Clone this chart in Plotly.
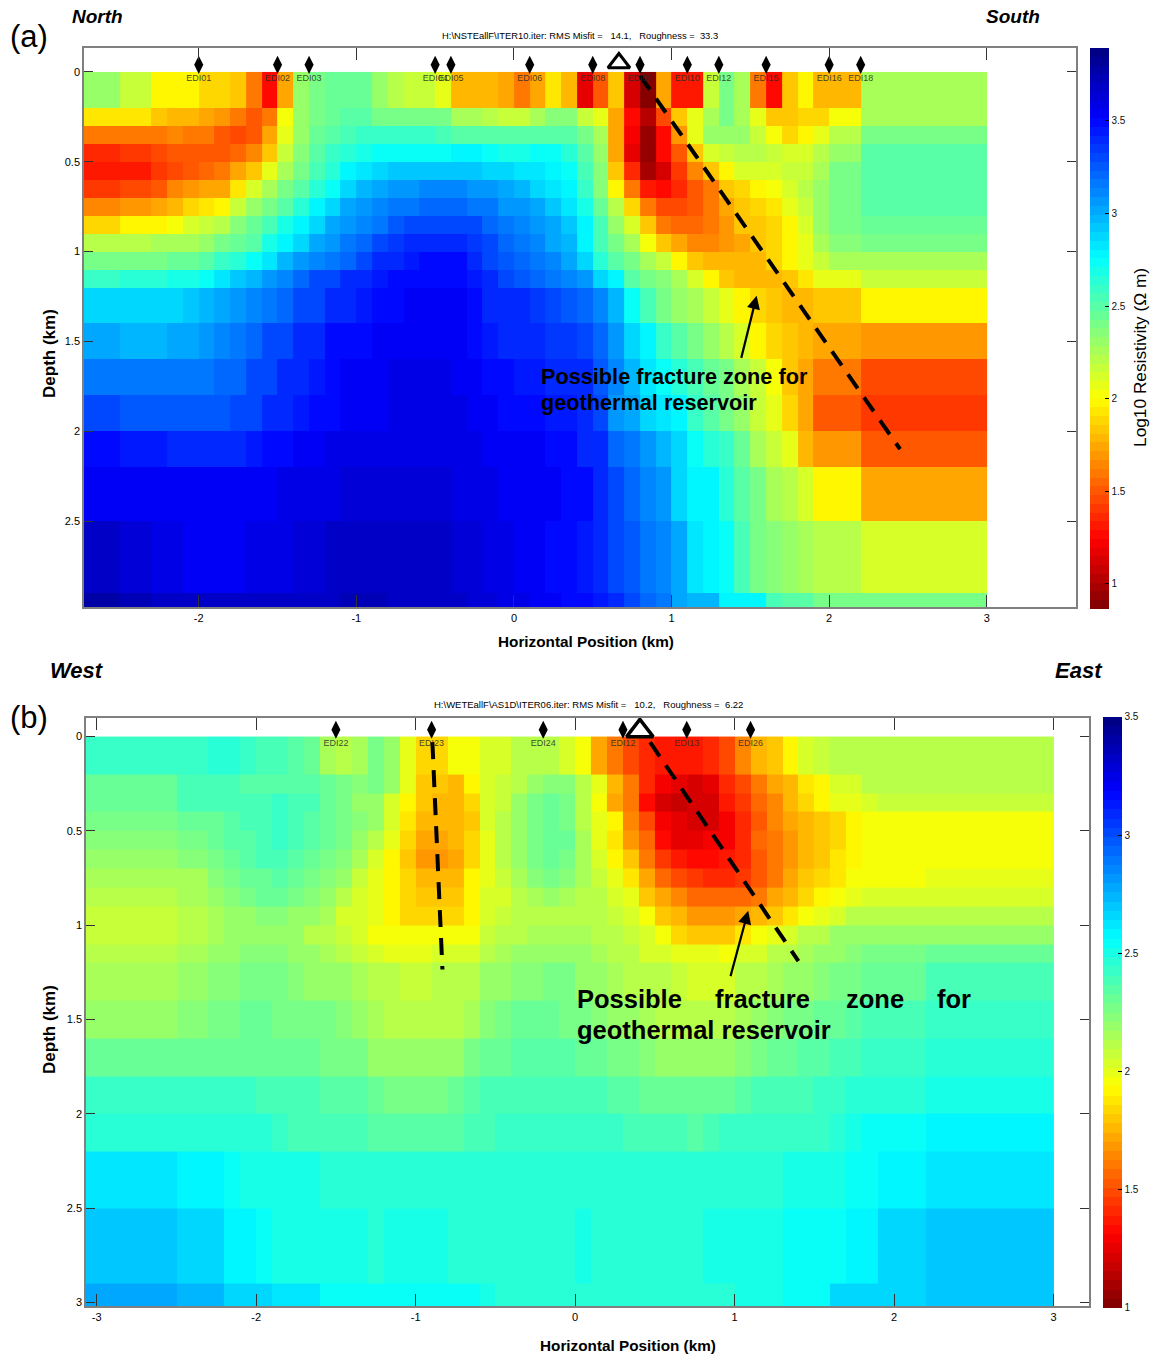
import plotly.graph_objects as go

W, H = 1154, 1358

# ---------- panel (a) data ----------
x_edges_a = [-2.74, -2.5, -2.3, -2.2, -2.1, -2.0, -1.9, -1.8, -1.7, -1.6, -1.5, -1.4, -1.3, -1.2, -1.1, -1.0,
             -0.9, -0.8, -0.7, -0.6, -0.5, -0.4, -0.3, -0.2, -0.1, 0.0, 0.1, 0.2, 0.3, 0.4, 0.5, 0.6, 0.7, 0.8,
             0.9, 1.0, 1.1, 1.2, 1.3, 1.4, 1.5, 1.6, 1.7, 1.8, 1.9, 2.0, 2.2, 3.0]
depth_edges_a = [0, 0.2, 0.3, 0.4, 0.5, 0.6, 0.7, 0.8, 0.9, 1.0, 1.1, 1.2, 1.4, 1.6, 1.8, 2.0, 2.2, 2.5, 2.9, 2.99]
log_res_a = [
 [2.3,2.15,2.0,1.97,1.97,1.88,1.88,1.82,1.62,1.28,1.75,2.3,2.42,2.45,2.45,2.45,2.33,2.2,2.18,2.18,2.05,1.8,1.8,1.8,1.72,1.58,1.75,1.95,1.8,1.15,1.5,1.85,1.12,0.9,1.75,1.3,1.33,2.15,2.38,2.25,1.6,1.28,1.85,1.98,1.8,1.8,2.25],
 [1.92,1.92,1.82,1.78,1.78,1.75,1.68,1.58,1.5,1.58,2.02,2.3,2.42,2.45,2.48,2.48,2.42,2.42,2.42,2.42,2.4,2.25,2.25,2.2,2.18,2.18,2.25,2.35,2.35,2.15,2.08,1.75,1.25,1.02,1.45,1.85,2.08,2.28,2.4,2.28,2.05,1.82,1.82,1.88,1.88,2.03,2.25],
 [1.62,1.6,1.6,1.65,1.6,1.6,1.52,1.45,1.5,1.72,2.05,2.3,2.45,2.5,2.55,2.58,2.58,2.58,2.58,2.58,2.55,2.5,2.5,2.5,2.5,2.48,2.5,2.5,2.48,2.4,2.25,1.72,1.2,0.92,1.25,1.7,2.08,2.3,2.33,2.3,2.15,2.03,1.9,1.98,2.08,2.2,2.38],
 [1.35,1.42,1.48,1.5,1.5,1.5,1.5,1.55,1.65,1.85,2.18,2.35,2.5,2.58,2.65,2.68,2.72,2.72,2.72,2.72,2.72,2.76,2.76,2.72,2.7,2.7,2.72,2.72,2.65,2.5,2.3,1.72,1.18,0.95,1.25,1.5,1.82,2.1,2.18,2.22,2.22,2.15,2.1,2.1,2.2,2.3,2.48],
 [1.3,1.33,1.42,1.45,1.5,1.55,1.6,1.72,1.85,2.05,2.28,2.42,2.55,2.65,2.78,2.82,2.88,2.92,2.92,2.92,2.92,2.92,2.92,2.9,2.88,2.85,2.82,2.78,2.75,2.55,2.35,1.82,1.38,1.0,1.12,1.4,1.65,1.85,2.0,2.12,2.12,2.12,2.15,2.18,2.25,2.38,2.5],
 [1.4,1.45,1.5,1.65,1.68,1.72,1.75,1.95,2.1,2.25,2.38,2.5,2.65,2.75,2.9,2.95,3.0,3.05,3.08,3.1,3.1,3.1,3.08,3.05,3.0,2.98,2.9,2.85,2.78,2.6,2.35,2.0,1.62,1.3,1.25,1.35,1.5,1.62,1.82,1.9,2.0,2.02,2.12,2.2,2.3,2.42,2.5],
 [1.65,1.68,1.72,1.78,1.88,1.92,2.0,2.15,2.3,2.42,2.5,2.62,2.78,2.88,3.0,3.05,3.1,3.15,3.18,3.2,3.2,3.2,3.18,3.15,3.08,3.05,3.0,2.92,2.85,2.68,2.45,2.2,1.88,1.62,1.45,1.48,1.52,1.6,1.75,1.85,1.9,1.95,2.05,2.15,2.3,2.4,2.48],
 [1.88,1.98,2.0,2.02,2.1,2.18,2.22,2.35,2.45,2.55,2.68,2.78,2.9,3.0,3.08,3.12,3.18,3.25,3.28,3.3,3.3,3.3,3.28,3.22,3.15,3.1,3.05,3.0,2.92,2.78,2.55,2.3,2.1,1.85,1.62,1.55,1.55,1.62,1.7,1.82,1.85,1.9,2.0,2.12,2.3,2.4,2.45],
 [2.2,2.22,2.25,2.28,2.28,2.3,2.38,2.45,2.52,2.68,2.78,2.88,3.0,3.08,3.15,3.2,3.28,3.35,3.38,3.38,3.38,3.38,3.35,3.28,3.2,3.15,3.1,3.0,2.95,2.8,2.55,2.42,2.28,2.02,1.82,1.72,1.65,1.65,1.68,1.72,1.85,1.88,1.98,2.08,2.25,2.35,2.4],
 [2.38,2.38,2.42,2.45,2.45,2.52,2.58,2.65,2.75,2.85,2.95,3.05,3.12,3.18,3.22,3.28,3.38,3.42,3.45,3.48,3.48,3.48,3.42,3.32,3.25,3.2,3.15,3.1,3.0,2.88,2.65,2.5,2.38,2.25,2.18,2.0,1.85,1.78,1.78,1.78,1.8,1.88,1.98,2.05,2.18,2.25,2.28],
 [2.6,2.62,2.62,2.68,2.7,2.75,2.85,2.92,2.98,3.05,3.12,3.2,3.28,3.32,3.38,3.42,3.45,3.5,3.5,3.5,3.5,3.5,3.45,3.38,3.32,3.25,3.2,3.15,3.1,3.05,2.9,2.78,2.5,2.42,2.35,2.25,2.1,2.0,1.85,1.8,1.78,1.78,1.85,1.95,2.05,2.05,2.18],
 [2.88,2.88,2.88,2.88,2.92,2.95,3.0,3.05,3.1,3.18,3.22,3.28,3.32,3.38,3.42,3.45,3.5,3.5,3.52,3.52,3.52,3.52,3.48,3.42,3.4,3.38,3.35,3.3,3.25,3.2,3.1,2.95,2.75,2.55,2.42,2.3,2.25,2.15,2.08,2.0,1.9,1.85,1.8,1.8,1.85,1.85,1.98],
 [3.0,2.95,2.95,3.0,3.02,3.05,3.1,3.15,3.2,3.28,3.32,3.38,3.42,3.48,3.5,3.5,3.52,3.52,3.55,3.55,3.55,3.52,3.5,3.45,3.42,3.4,3.38,3.36,3.33,3.3,3.2,3.05,2.88,2.8,2.6,2.5,2.42,2.32,2.22,2.1,2.0,1.9,1.85,1.78,1.72,1.72,1.68],
 [3.18,3.15,3.15,3.15,3.15,3.15,3.2,3.22,3.28,3.32,3.38,3.42,3.45,3.48,3.52,3.52,3.55,3.58,3.58,3.58,3.58,3.55,3.52,3.5,3.48,3.46,3.44,3.42,3.4,3.38,3.25,3.1,2.95,2.85,2.75,2.65,2.55,2.45,2.4,2.25,2.15,2.02,1.85,1.75,1.58,1.58,1.48],
 [3.28,3.25,3.25,3.25,3.25,3.25,3.25,3.28,3.32,3.38,3.42,3.45,3.48,3.5,3.52,3.55,3.55,3.58,3.6,3.6,3.6,3.58,3.55,3.52,3.5,3.5,3.48,3.46,3.44,3.4,3.3,3.08,3.0,2.9,2.85,2.78,2.6,2.5,2.4,2.3,2.15,2.05,1.9,1.75,1.52,1.52,1.42],
 [3.48,3.45,3.45,3.4,3.38,3.38,3.4,3.42,3.45,3.48,3.5,3.52,3.55,3.58,3.6,3.6,3.6,3.6,3.6,3.6,3.6,3.6,3.58,3.55,3.54,3.52,3.52,3.5,3.48,3.42,3.38,3.2,3.18,3.05,2.98,2.88,2.72,2.65,2.58,2.45,2.28,2.15,2.05,1.78,1.68,1.68,1.52],
 [3.55,3.55,3.55,3.52,3.52,3.52,3.52,3.52,3.55,3.55,3.58,3.58,3.6,3.6,3.62,3.62,3.62,3.62,3.64,3.64,3.62,3.6,3.58,3.57,3.56,3.55,3.54,3.52,3.5,3.48,3.42,3.28,3.2,3.1,3.08,2.9,2.78,2.76,2.65,2.5,2.38,2.25,2.2,2.12,2.0,2.0,1.75],
 [3.66,3.62,3.6,3.58,3.56,3.55,3.55,3.56,3.58,3.58,3.6,3.62,3.64,3.66,3.66,3.66,3.66,3.66,3.66,3.66,3.66,3.64,3.62,3.6,3.58,3.55,3.52,3.5,3.48,3.45,3.42,3.3,3.25,3.15,3.12,3.0,2.85,2.8,2.72,2.55,2.38,2.36,2.3,2.28,2.22,2.22,2.12],
 [3.78,3.72,3.7,3.68,3.68,3.68,3.68,3.68,3.68,3.68,3.68,3.68,3.7,3.7,3.72,3.72,3.72,3.68,3.68,3.66,3.66,3.66,3.64,3.62,3.6,3.58,3.55,3.52,3.5,3.48,3.45,3.38,3.3,3.2,3.15,3.0,2.98,2.98,2.78,2.76,2.76,2.55,2.52,2.52,2.42,2.4,2.38],
]
stations_a = ["EDI01", "EDI02", "EDI03", "EDI04", "EDI05", "EDI06", "EDI08", "EDI09", "EDI10", "EDI12", "EDI15", "EDI16", "EDI18"]
station_x_a = [-2.0, -1.5, -1.3, -0.5, -0.4, 0.1, 0.5, 0.8, 1.1, 1.3, 1.6, 2.0, 2.2]
fault_x_a = [0.8, 2.45]
fault_d_a = [0.02, 2.1]

# ---------- panel (b) data ----------
x_edges_b = [-3.08, -2.5, -2.3, -2.2, -2.1, -2.0, -1.9, -1.8, -1.7, -1.6, -1.5, -1.4, -1.3, -1.2, -1.1, -1.0,
             -0.9, -0.8, -0.7, -0.6, -0.5, -0.4, -0.3, -0.2, -0.1, 0.0, 0.1, 0.2, 0.3, 0.4, 0.5, 0.6, 0.7, 0.8,
             0.9, 1.0, 1.1, 1.2, 1.3, 1.4, 1.5, 1.6, 1.7, 1.8, 1.9, 2.2, 3.0]
depth_edges_b = [0, 0.2, 0.3, 0.4, 0.5, 0.6, 0.7, 0.8, 0.9, 1.0, 1.1, 1.2, 1.4, 1.6, 1.8, 2.0, 2.2, 2.5, 2.9, 3.03]
log_res_b = [
 [2.42,2.42,2.46,2.46,2.42,2.4,2.38,2.35,2.3,2.14,2.12,2.14,2.25,2.18,2.0,1.85,1.83,1.95,1.97,2.02,2.05,2.12,2.12,2.12,2.05,1.95,1.72,1.62,1.5,1.4,1.38,1.38,1.38,1.42,1.5,1.65,1.75,1.82,1.92,2.02,2.08,2.12,2.12,2.12,2.12,2.12],
 [2.32,2.38,2.38,2.38,2.36,2.36,2.36,2.34,2.33,2.3,2.25,2.22,2.25,2.2,2.0,1.82,1.82,1.78,1.9,2.05,2.08,2.12,2.2,2.22,2.22,2.1,1.98,1.78,1.62,1.4,1.3,1.25,1.2,1.25,1.4,1.5,1.62,1.72,1.78,1.88,1.92,2.05,2.05,2.1,2.12,2.12],
 [2.32,2.4,2.4,2.4,2.4,2.4,2.42,2.4,2.38,2.3,2.25,2.2,2.2,2.05,1.9,1.8,1.77,1.75,1.85,2.02,2.08,2.2,2.28,2.3,2.28,2.12,1.95,1.72,1.6,1.35,1.22,1.18,1.2,1.22,1.38,1.45,1.58,1.65,1.75,1.85,1.9,1.98,2.0,2.03,2.08,2.08],
 [2.25,2.3,2.3,2.36,2.38,2.4,2.42,2.4,2.36,2.32,2.28,2.22,2.2,2.03,1.88,1.78,1.75,1.75,1.82,2.02,2.1,2.2,2.28,2.3,2.28,2.12,1.98,1.9,1.65,1.5,1.28,1.25,1.2,1.2,1.3,1.42,1.52,1.65,1.72,1.75,1.8,1.85,1.9,1.95,1.95,1.96],
 [2.22,2.28,2.3,2.33,2.36,2.4,2.42,2.4,2.36,2.32,2.25,2.18,2.12,1.98,1.85,1.72,1.72,1.75,1.85,2.0,2.12,2.2,2.28,2.32,2.3,2.15,2.0,1.88,1.68,1.55,1.35,1.25,1.25,1.28,1.3,1.42,1.55,1.62,1.7,1.78,1.82,1.85,1.93,1.95,1.95,1.96],
 [2.18,2.22,2.25,2.32,2.35,2.38,2.38,2.35,2.32,2.28,2.22,2.15,2.02,1.92,1.82,1.7,1.7,1.72,1.84,1.98,2.12,2.2,2.28,2.3,2.28,2.15,2.05,1.92,1.8,1.62,1.45,1.38,1.35,1.35,1.38,1.4,1.52,1.6,1.68,1.75,1.8,1.88,1.93,1.95,1.95,1.96],
 [2.15,2.17,2.22,2.28,2.32,2.32,2.35,2.32,2.28,2.22,2.18,2.08,2.0,1.92,1.85,1.75,1.75,1.78,1.92,2.0,2.08,2.15,2.22,2.25,2.22,2.15,2.08,1.98,1.86,1.72,1.58,1.5,1.45,1.42,1.42,1.45,1.52,1.62,1.72,1.8,1.85,1.88,1.94,1.95,1.96,1.98],
 [2.11,2.14,2.18,2.22,2.25,2.3,2.3,2.25,2.22,2.18,2.1,2.02,1.98,1.92,1.85,1.8,1.8,1.82,1.92,2.03,2.05,2.12,2.15,2.18,2.15,2.12,2.1,2.05,1.98,1.82,1.72,1.65,1.58,1.55,1.55,1.58,1.62,1.72,1.78,1.85,1.92,1.96,2.0,2.02,2.04,2.05],
 [2.08,2.12,2.15,2.18,2.2,2.22,2.22,2.2,2.18,2.15,2.05,2.02,1.98,1.9,1.85,1.85,1.85,1.85,1.92,2.05,2.07,2.1,2.12,2.12,2.12,2.12,2.1,2.08,2.02,1.95,1.82,1.75,1.7,1.7,1.7,1.72,1.75,1.8,1.88,1.95,2.0,2.05,2.1,2.12,2.12,2.12],
 [2.08,2.13,2.15,2.18,2.2,2.2,2.2,2.18,2.12,2.1,2.08,2.03,1.97,1.94,1.94,1.94,1.94,1.94,1.95,2.06,2.1,2.12,2.15,2.15,2.15,2.15,2.12,2.1,2.08,2.02,1.95,1.85,1.82,1.82,1.82,1.88,1.95,1.98,2.05,2.1,2.12,2.18,2.2,2.2,2.2,2.2],
 [2.13,2.15,2.18,2.2,2.22,2.22,2.22,2.2,2.18,2.15,2.1,2.08,2.05,2.0,2.0,2.0,2.02,2.02,2.05,2.1,2.15,2.18,2.2,2.2,2.2,2.18,2.15,2.12,2.1,2.05,2.02,2.0,2.0,1.98,1.96,2.02,2.05,2.1,2.12,2.15,2.18,2.2,2.22,2.25,2.25,2.3],
 [2.15,2.2,2.22,2.22,2.25,2.25,2.25,2.22,2.2,2.2,2.18,2.15,2.1,2.1,2.08,2.08,2.1,2.1,2.12,2.18,2.2,2.22,2.22,2.25,2.25,2.2,2.18,2.15,2.12,2.12,2.1,2.08,2.05,2.05,2.05,2.1,2.12,2.15,2.18,2.2,2.22,2.25,2.28,2.3,2.3,2.38],
 [2.2,2.22,2.25,2.28,2.3,2.3,2.28,2.28,2.28,2.25,2.22,2.18,2.15,2.1,2.1,2.1,2.1,2.1,2.15,2.22,2.28,2.3,2.3,2.3,2.28,2.25,2.22,2.2,2.18,2.15,2.12,2.12,2.1,2.12,2.12,2.15,2.2,2.22,2.25,2.28,2.3,2.32,2.35,2.38,2.38,2.42],
 [2.3,2.3,2.3,2.3,2.3,2.3,2.3,2.29,2.29,2.28,2.25,2.25,2.2,2.18,2.18,2.18,2.18,2.2,2.25,2.3,2.32,2.33,2.35,2.35,2.33,2.32,2.3,2.28,2.25,2.22,2.2,2.2,2.2,2.2,2.2,2.22,2.25,2.3,2.32,2.35,2.35,2.38,2.4,2.42,2.42,2.45],
 [2.41,2.41,2.41,2.41,2.41,2.4,2.4,2.38,2.38,2.33,2.33,2.33,2.3,2.28,2.28,2.28,2.28,2.3,2.33,2.38,2.38,2.4,2.4,2.4,2.4,2.38,2.38,2.36,2.35,2.32,2.3,2.3,2.3,2.32,2.32,2.35,2.38,2.38,2.38,2.4,2.42,2.42,2.45,2.48,2.48,2.52],
 [2.48,2.48,2.48,2.48,2.46,2.46,2.44,2.4,2.4,2.38,2.38,2.38,2.36,2.35,2.35,2.35,2.35,2.35,2.38,2.4,2.42,2.43,2.44,2.44,2.44,2.44,2.44,2.42,2.38,2.38,2.38,2.38,2.36,2.4,2.42,2.42,2.42,2.42,2.42,2.42,2.44,2.46,2.5,2.53,2.54,2.58],
 [2.62,2.58,2.58,2.55,2.52,2.5,2.5,2.5,2.5,2.48,2.46,2.46,2.46,2.46,2.46,2.46,2.46,2.46,2.46,2.46,2.46,2.46,2.46,2.46,2.46,2.46,2.46,2.46,2.46,2.46,2.46,2.46,2.46,2.46,2.46,2.46,2.46,2.46,2.5,2.5,2.5,2.52,2.56,2.56,2.6,2.64],
 [2.69,2.66,2.66,2.58,2.58,2.54,2.52,2.5,2.5,2.5,2.5,2.5,2.48,2.5,2.5,2.5,2.5,2.48,2.48,2.48,2.48,2.48,2.48,2.47,2.47,2.5,2.46,2.46,2.46,2.46,2.46,2.48,2.48,2.5,2.5,2.5,2.5,2.52,2.54,2.54,2.54,2.54,2.6,2.6,2.65,2.69],
 [2.76,2.72,2.72,2.66,2.66,2.66,2.63,2.63,2.63,2.56,2.56,2.56,2.56,2.56,2.56,2.56,2.54,2.54,2.54,2.52,2.48,2.48,2.48,2.48,2.48,2.48,2.48,2.45,2.45,2.45,2.45,2.48,2.48,2.48,2.48,2.52,2.52,2.52,2.56,2.56,2.56,2.65,2.65,2.65,2.65,2.69],
]
stations_b = ["EDI22", "EDI23", "EDI24", "EDI12", "EDI13", "EDI26"]
station_x_b = [-1.5, -0.9, -0.2, 0.3, 0.7, 1.1]
fault1_x_b = [-0.895, -0.832]
fault1_d_b = [0.03, 1.235]
fault2_x_b = [0.47, 1.40]
fault2_d_b = [0.03, 1.19]

# ---------- helpers ----------
def jet_stepped(n=64):
    def c(t):
        r = min(max(min(4*t-1.5, -4*t+4.5), 0), 1)
        g = min(max(min(4*t-0.5, -4*t+3.5), 0), 1)
        b = min(max(min(4*t+0.5, -4*t+2.5), 0), 1)
        return f"rgb({round(r*255)},{round(g*255)},{round(b*255)})"
    out = []
    for i in range(n):
        col = c(1 - (i + 0.5) / n)
        out += [[i / n, col], [(i + 1) / n, col]]
    return out

JET = jet_stepped()
FONT = "Liberation Sans"
px = lambda v: v / W
py = lambda v: 1 - v / H

fig = go.Figure()

def cbar(x, ytop, length):
    return dict(x=px(x), xanchor="left", xref="paper", y=py(ytop), yanchor="top", yref="paper",
                lenmode="pixels", len=length, thickness=19, thicknessmode="pixels", xpad=0, ypad=0,
                outlinewidth=0, ticks="inside", ticklen=4, tickcolor="#000", tickvals=[1, 1.5, 2, 2.5, 3, 3.5],
                ticktext=["1", "1.5", "2", "2.5", "3", "3.5"], tickfont=dict(size=10, family=FONT, color="#111"))

fig.add_trace(go.Heatmap(x=x_edges_a, y=depth_edges_a, z=log_res_a, zmin=0.865, zmax=3.894, colorscale=JET,
    xaxis="x", yaxis="y", hoverinfo="skip", colorbar=cbar(1090, 48, 561)))
fig.add_trace(go.Heatmap(x=x_edges_b, y=depth_edges_b, z=log_res_b, zmin=1, zmax=3.5, colorscale=JET,
    xaxis="x2", yaxis="y2", hoverinfo="skip", colorbar=cbar(1103, 718, 591)))

def stations(xs, names, xa, ya, dmark, dlab):
    fig.add_trace(go.Scatter(x=xs, y=[dmark]*len(xs), mode="markers", xaxis=xa, yaxis=ya, showlegend=False,
                             hoverinfo="skip", marker=dict(symbol="diamond-tall", size=13, color="#000"), cliponaxis=False))
    fig.add_trace(go.Scatter(x=xs, y=[dlab]*len(xs), mode="text", text=names, xaxis=xa, yaxis=ya, showlegend=False,
                             hoverinfo="skip", textposition="middle center",
                             textfont=dict(size=9, family=FONT, color="rgba(40,40,40,0.85)"), cliponaxis=False))

def fault(xs, ds, xa, ya):
    fig.add_trace(go.Scatter(x=xs, y=ds, mode="lines", xaxis=xa, yaxis=ya, showlegend=False, hoverinfo="skip",
                             line=dict(color="#000", width=4, dash="17px,11px"), cliponaxis=False))

fault(fault_x_a, fault_d_a, "x", "y")
fault(fault1_x_b, fault1_d_b, "x2", "y2")
fault(fault2_x_b, fault2_d_b, "x2", "y2")
stations(station_x_a, stations_a, "x", "y", -0.04, 0.04)
stations(station_x_b, stations_b, "x2", "y2", -0.036, 0.04)

fig.add_trace(go.Scatter(x=[0.666], y=[-0.05], mode="markers", xaxis="x", yaxis="y", showlegend=False, hoverinfo="skip",
                         marker=dict(symbol="triangle-up-open", size=19, color="#000", line=dict(width=3, color="#000")), cliponaxis=False))
fig.add_trace(go.Scatter(x=[0.406], y=[-0.03], mode="markers", xaxis="x2", yaxis="y2", showlegend=False, hoverinfo="skip",
                         marker=dict(symbol="triangle-up-open", size=23, color="#000", line=dict(width=3.5, color="#000")), cliponaxis=False))

def axis(domain, rng, vals, anchor, ticklen=10):
    return dict(domain=domain, range=rng, tickvals=vals, ticktext=[f"{v:g}" for v in vals], anchor=anchor,
                ticks="inside", ticklen=ticklen, tickwidth=1, tickcolor="#333", mirror="ticks", showline=True,
                linecolor="#808080", linewidth=1.5, showgrid=False, zeroline=False,
                tickfont=dict(family=FONT, size=11, color="#000"))

fig.update_layout(
    width=W, height=H, margin=dict(l=0, r=0, t=0, b=0), paper_bgcolor="#fff", plot_bgcolor="#fff",
    showlegend=False, font=dict(family=FONT, color="#000"),
    xaxis=axis([px(84), px(1075.5)], [-2.728, 3.563], [-2, -1, 0, 1, 2, 3], "y", ticklen=12),
    yaxis=axis([py(608), py(48.5)], [2.979, -0.131], [0, 0.5, 1, 1.5, 2, 2.5], "x", ticklen=9),
    xaxis2=axis([px(86), px(1088.5)], [-3.067, 3.219], [-3, -2, -1, 0, 1, 2, 3], "y2", ticklen=12),
    yaxis2=axis([py(1308), py(719.5)], [3.019, -0.096], [0, 0.5, 1, 1.5, 2, 2.5, 3], "x2", ticklen=9),
)

def label(text, x, y, size, anchor="left", bold=False, italic=False, angle=0, color="#000"):
    t = text
    if bold:
        t = f"<b>{t}</b>"
    if italic:
        t = f"<i>{t}</i>"
    fig.add_annotation(text=t, x=px(x), y=py(y), xref="paper", yref="paper", xanchor=anchor, yanchor="middle",
                       showarrow=False, textangle=angle, font=dict(size=size, family=FONT, color=color),
                       borderpad=0, borderwidth=0)

label("(a)", 10, 37, 31)
label("(b)", 10, 719, 31)
label("North", 72, 17, 19, bold=True, italic=True)
label("South", 986, 17, 19, bold=True, italic=True)
label("West", 50, 671, 22, bold=True, italic=True)
label("East", 1055, 671, 22, bold=True, italic=True)
nb = "\u00a0"
label(f"H:\\NSTEallF\\ITER10.iter: RMS Misfit ={nb*3}14.1,{nb*3}Roughness ={nb*2}33.3", 580, 36, 9.4, anchor="center")
label(f"H:\\WETEallF\\AS1D\\ITER06.iter: RMS Misfit ={nb*3}10.2,{nb*3}Roughness ={nb*2}6.22", 588, 706, 9.5, anchor="center")
label("Horizontal Position (km)", 586, 642, 15.3, anchor="center", bold=True)
label("Horizontal Position (km)", 628, 1347, 15.3, anchor="center", bold=True)
label("Depth (km)", 50, 354.5, 17, anchor="center", bold=True, angle=-90)
label("Depth (km)", 50, 1031.5, 17, anchor="center", bold=True, angle=-90)
label("Log10 Resistivity (Ω m)", 1140, 358.5, 17.3, anchor="center", angle=-90)

label("Possible fracture zone for", 541, 377, 21.7, bold=True)
label("geothermal reservoir", 541, 403, 21.7, bold=True)
for word, xp in [("Possible", 577), ("fracture", 715), ("zone", 846), ("for", 937)]:
    label(word, xp, 1000, 25.5, bold=True)
label("geothermal reservoir", 577, 1032, 25.5, bold=True)

fig.add_annotation(x=1.54, y=1.246, ax=1.44, ay=1.6, xref="x", yref="y", axref="x", ayref="y", text="",
                   showarrow=True, arrowhead=2, arrowsize=1.2, arrowwidth=2.2, arrowcolor="#000")
fig.add_annotation(x=1.085, y=0.923, ax=0.972, ay=1.278, xref="x2", yref="y2", axref="x2", ayref="y2", text="",
                   showarrow=True, arrowhead=2, arrowsize=1.2, arrowwidth=2.2, arrowcolor="#000")

fig.write_html("out.html", config={"displayModeBar": False}, post_script="document.body.style.margin='0';")
